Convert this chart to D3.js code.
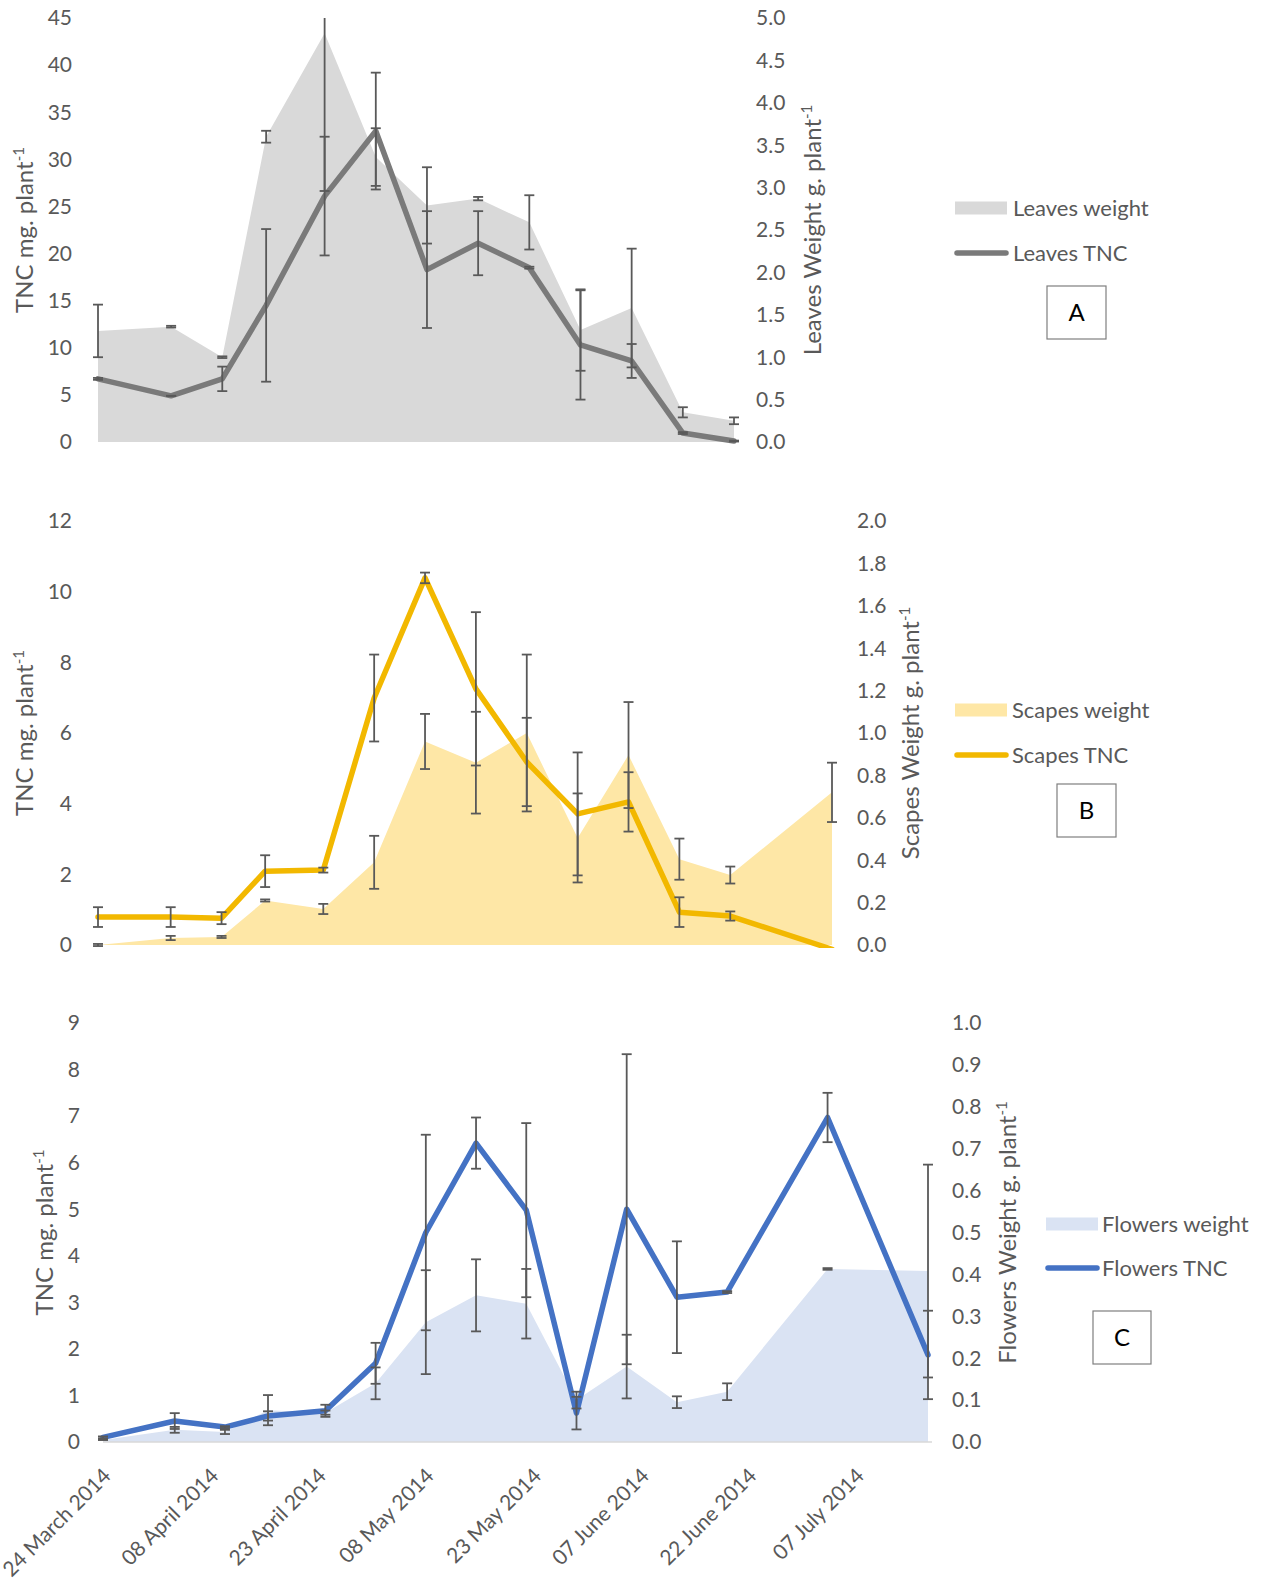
<!DOCTYPE html>
<html>
<head>
<meta charset="utf-8">
<script src="https://cdn.jsdelivr.net/npm/d3@7/dist/d3.min.js"></script>
<style>
  html, body { margin: 0; padding: 0; background: #fff; }
  svg { display: block; font-family: Lato, "Open Sans", sans-serif; }
</style>
</head>
<body>
<svg id="chart" width="1270" height="1578"></svg>
<script>
// Sampling dates (shared by the three panels; each panel uses a prefix)
const sampleDates = ["2014-03-24","2014-04-03","2014-04-10","2014-04-16","2014-04-24","2014-05-01",
  "2014-05-08","2014-05-15","2014-05-22","2014-05-29","2014-06-05","2014-06-12","2014-06-19",
  "2014-07-03","2014-07-17"];

// Leaves (13 dates)
const leavesWeight    = [1.31, 1.36, 1.00, 3.60, 4.82, 3.36, 2.79, 2.87, 2.59, 1.32, 1.58, 0.35, 0.25];
const leavesWeightErr = [0.31, 0.01, 0.01, 0.07, 1.86, 0.34, 0.45, 0.02, 0.32, 0.48, 0.70, 0.06, 0.04];
const leavesTNC       = [6.7, 4.9, 6.7, 14.5, 26.1, 33.0, 18.3, 21.1, 18.5, 10.3, 8.6, 0.95, 0.1];
const leavesTNCErr    = [0.1, 0.0, 1.3, 8.1, 6.3, 6.2, 6.2, 3.4, 0.1, 5.8, 1.8, 0.1, 0.05];

// Scapes (14 dates)
const scapesWeight    = [0.0, 0.033, 0.038, 0.21, 0.17, 0.39, 0.96, 0.86, 1.0, 0.505, 0.896, 0.405, 0.33, 0.72];
const scapesWeightErr = [0.005, 0.01, 0.005, 0.005, 0.024, 0.125, 0.13, 0.24, 0.37, 0.21, 0.25, 0.097, 0.04, 0.14];
const scapesTNC       = [0.79, 0.79, 0.76, 2.09, 2.12, 6.99, 10.39, 7.25, 5.18, 3.71, 4.05, 0.93, 0.82, -0.12];
const scapesTNCErr    = [0.28, 0.28, 0.17, 0.45, 0.07, 1.23, 0.15, 2.17, 1.25, 1.74, 0.84, 0.42, 0.13, 0.0];

// Flowers (15 dates)
const flowersWeight    = [0.005, 0.029, 0.024, 0.076, 0.07, 0.14, 0.286, 0.35, 0.33, 0.10, 0.18, 0.095, 0.12, 0.413, 0.408];
const flowersWeightErr = [0.0, 0.007, 0.005, 0.036, 0.005, 0.038, 0.124, 0.086, 0.083, 0.02, 0.076, 0.014, 0.02, 0.002, 0.254];
const flowersTNC       = [0.1, 0.45, 0.32, 0.56, 0.67, 1.69, 4.5, 6.42, 4.98, 0.62, 5.0, 3.11, 3.22, 6.97, 1.87];
const flowersTNCErr    = [0.02, 0.17, 0.02, 0.1, 0.13, 0.44, 2.1, 0.55, 1.87, 0.35, 3.33, 1.2, 0.02, 0.53, 0.95];

// Date-axis tick labels (bottom panel)
const xTickDates = ["2014-03-24","2014-04-08","2014-04-23","2014-05-08","2014-05-23","2014-06-07","2014-06-22","2014-07-07"];

const parse = d3.timeParse("%Y-%m-%d");
const fmtTick = d3.timeFormat("%d %B %Y");
const textColor = "#595959";
const errColor = "#595959";

const panels = [
  { id: "A", organ: "Leaves", weight: leavesWeight, weightErr: leavesWeightErr, tnc: leavesTNC, tncErr: leavesTNCErr,
    fill: "#d9d9d9", stroke: "#7a7a7a",
    xRange: [98, 734], yRange: [442, 18], leftMax: 45, leftStep: 5, rightMax: 5, rightStep: 0.5,
    leftLabelX: 72, rightLabelX: 756, leftTitleX: 25, rightTitleX: 813,
    legendX: 955, legendTextX: 1013, legendY1: 208, legendY2: 253, box: [1047, 286, 59, 53], axisLine: false },
  { id: "B", organ: "Scapes", weight: scapesWeight, weightErr: scapesWeightErr, tnc: scapesTNC, tncErr: scapesTNCErr,
    fill: "#fee7a6", stroke: "#f2b800",
    xRange: [98, 832], yRange: [945, 521], leftMax: 12, leftStep: 2, rightMax: 2, rightStep: 0.2,
    leftLabelX: 72, rightLabelX: 857, leftTitleX: 25, rightTitleX: 911,
    legendX: 955, legendTextX: 1012, legendY1: 710, legendY2: 755, box: [1057, 784, 59, 53], axisLine: false },
  { id: "C", organ: "Flowers", weight: flowersWeight, weightErr: flowersWeightErr, tnc: flowersTNC, tncErr: flowersTNCErr,
    fill: "#dae3f3", stroke: "#4472c4",
    xRange: [103, 928], yRange: [1442, 1023], leftMax: 9, leftStep: 1, rightMax: 1, rightStep: 0.1,
    leftLabelX: 80, rightLabelX: 952, leftTitleX: 45, rightTitleX: 1008,
    legendX: 1046, legendTextX: 1102, legendY1: 1224, legendY2: 1268, box: [1093, 1311, 58, 53], axisLine: true }
];

const svg = d3.select("#chart");
const defs = svg.append("defs");

panels.forEach((p) => {
  const n = p.tnc.length;
  const dates = sampleDates.slice(0, n).map(parse);
  const x = d3.scaleTime().domain([dates[0], dates[n - 1]]).range(p.xRange);
  const yL = d3.scaleLinear().domain([0, p.leftMax]).range(p.yRange);
  const yR = d3.scaleLinear().domain([0, p.rightMax]).range(p.yRange);

  const g = svg.append("g").attr("class", "panel-" + p.id);

  // plot-area clip
  const clipId = "clip" + p.id;
  defs.append("clipPath").attr("id", clipId).append("rect")
    .attr("x", p.xRange[0] - 12).attr("y", p.yRange[1])
    .attr("width", p.xRange[1] - p.xRange[0] + 24).attr("height", p.yRange[0] - p.yRange[1] + 3);

  const plot = g.append("g").attr("clip-path", `url(#${clipId})`);

  // weight area (secondary axis)
  const area = d3.area().x((d, i) => x(dates[i])).y0(yR(0)).y1(d => yR(d));
  plot.append("path").datum(p.weight).attr("d", area).attr("fill", p.fill);

  if (p.axisLine) {
    g.append("line").attr("x1", p.xRange[0]).attr("x2", p.xRange[1] + 4)
      .attr("y1", yL(0)).attr("y2", yL(0)).attr("stroke", "#d9d9d9").attr("stroke-width", 1.5);
  }

  // TNC line (primary axis)
  const line = d3.line().x((d, i) => x(dates[i])).y(d => yL(d));
  plot.append("path").datum(p.tnc).attr("d", line).attr("fill", "none")
    .attr("stroke", p.stroke).attr("stroke-width", 5.5)
    .attr("stroke-linejoin", "round").attr("stroke-linecap", "round");

  // error bars
  const cap = 5;
  function errorBars(vals, errs, y) {
    vals.forEach((v, i) => {
      const e = errs[i];
      const cx = x(dates[i]);
      const lo = y(v - e), hi = y(v + e);
      const eb = plot.append("g").attr("stroke", errColor).attr("stroke-width", 1.8);
      eb.append("line").attr("x1", cx).attr("x2", cx).attr("y1", lo).attr("y2", hi);
      eb.append("line").attr("x1", cx - cap).attr("x2", cx + cap).attr("y1", lo).attr("y2", lo);
      eb.append("line").attr("x1", cx - cap).attr("x2", cx + cap).attr("y1", hi).attr("y2", hi);
    });
  }
  errorBars(p.weight, p.weightErr, yR);
  errorBars(p.tnc, p.tncErr, yL);

  // left axis labels
  const leftTicks = d3.range(0, p.leftMax + p.leftStep / 2, p.leftStep);
  g.selectAll(".lt").data(leftTicks).join("text")
    .attr("x", p.leftLabelX).attr("y", d => yL(d)).attr("dy", "0.35em")
    .attr("text-anchor", "end").attr("fill", textColor).attr("font-size", 21)
    .text(d => d3.format("d")(d));

  // right axis labels
  const rightTicks = d3.range(0, Math.round(p.rightMax / p.rightStep) + 1).map(k => k * p.rightStep);
  g.selectAll(".rt").data(rightTicks).join("text")
    .attr("x", p.rightLabelX).attr("y", d => yR(d)).attr("dy", "0.35em")
    .attr("text-anchor", "start").attr("fill", textColor).attr("font-size", 21)
    .text(d => d3.format(".1f")(d));

  // axis titles
  const midY = (p.yRange[0] + p.yRange[1]) / 2;
  function title(xPos, label) {
    const t = g.append("text")
      .attr("transform", `translate(${xPos},${midY}) rotate(-90)`)
      .attr("text-anchor", "middle").attr("dy", "0.35em")
      .attr("fill", textColor).attr("font-size", 24);
    t.append("tspan").text(label);
    t.append("tspan").attr("baseline-shift", "super").attr("font-size", 15).text("-1");
  }
  title(p.leftTitleX, "TNC mg. plant");
  title(p.rightTitleX, p.organ + " Weight g. plant");

  // legend
  g.append("rect").attr("x", p.legendX).attr("y", p.legendY1 - 6.5).attr("width", 52).attr("height", 13)
    .attr("fill", p.fill);
  g.append("text").attr("x", p.legendTextX).attr("y", p.legendY1).attr("dy", "0.35em")
    .attr("fill", textColor).attr("font-size", 22).text(p.organ + " weight");
  g.append("line").attr("x1", p.legendX + 2).attr("x2", p.legendX + 51)
    .attr("y1", p.legendY2).attr("y2", p.legendY2)
    .attr("stroke", p.stroke).attr("stroke-width", 5.5).attr("stroke-linecap", "round");
  g.append("text").attr("x", p.legendTextX).attr("y", p.legendY2).attr("dy", "0.35em")
    .attr("fill", textColor).attr("font-size", 22).text(p.organ + " TNC");

  // panel letter box
  const [bx, by, bw, bh] = p.box;
  g.append("rect").attr("x", bx).attr("y", by).attr("width", bw).attr("height", bh)
    .attr("fill", "#fff").attr("stroke", "#7f7f7f").attr("stroke-width", 1.2);
  g.append("text").attr("x", bx + bw / 2).attr("y", by + bh / 2).attr("dy", "0.36em")
    .attr("text-anchor", "middle").attr("fill", "#000").attr("font-size", 24).text(p.id);

  // date labels under the bottom panel
  if (p.axisLine) {
    const ticks = xTickDates.map(parse);
    g.selectAll(".xt").data(ticks).join("text")
      .attr("transform", d => `translate(${x(d) + 4},${yL(0) + 30}) rotate(-45)`)
      .attr("text-anchor", "end").attr("dy", "0.35em")
      .attr("fill", textColor).attr("font-size", 21)
      .text(d => fmtTick(d));
  }
});
</script>
</body>
</html>
